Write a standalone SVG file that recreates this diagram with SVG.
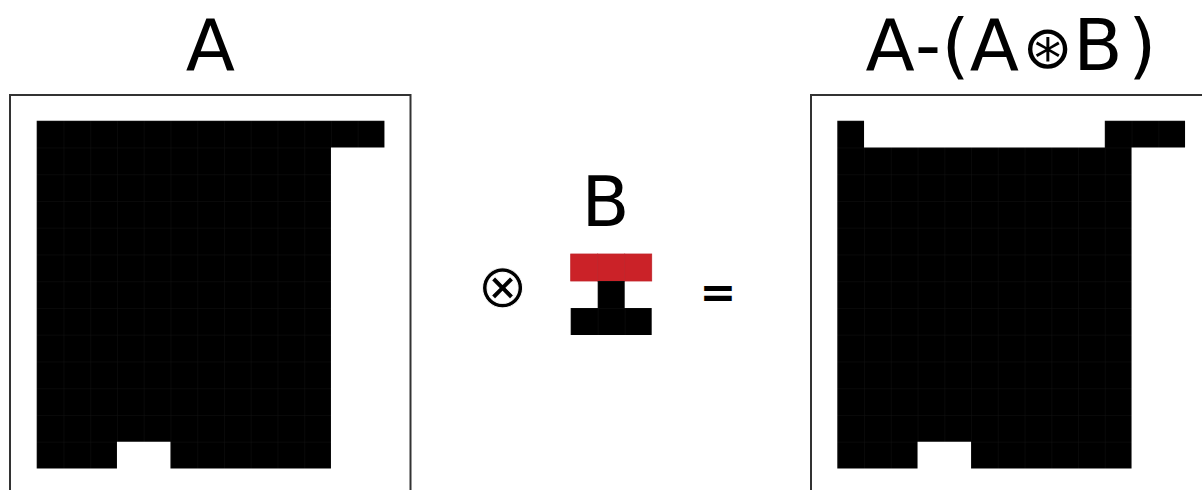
<svg xmlns="http://www.w3.org/2000/svg" width="1202" height="490" viewBox="0 0 1202 490">
  <style>
    .title { font-family: "DejaVu Sans", "Liberation Sans", sans-serif; fill: #000; }
    .thin { stroke: #fff; stroke-width: 0.9; }
    .frame { fill: none; stroke: #333; stroke-width: 2; }
    .ink { fill: url(#cell); }
    .red { fill: #cb2228; stroke: #c0242a; stroke-width: 0.03; }
  </style>
  <defs>
    <!-- one grid cell in unit space: black square with a faint seam on its edges -->
    <pattern id="cell" patternUnits="userSpaceOnUse" x="0" y="0" width="1" height="1">
      <rect x="0" y="0" width="1" height="1" fill="#000"/>
      <path d="M0,0 H1 M0,0 V1" stroke="#121212" stroke-width="0.035" fill="none"/>
    </pattern>
  </defs>

  <rect width="1202" height="490" fill="#fff"/>

  <!-- input image A -->
  <g id="panel-a">
    <text class="title" x="210.5" y="70" font-size="72" text-anchor="middle">A</text>
    <rect class="frame" x="10" y="95" width="400.5" height="420"/>
    <g transform="translate(36.7,120.7) scale(26.75)">
      <path class="ink" d="M0,0 H13 V1 H11 V13 H5 V12 H3 V13 H0 Z"/>
    </g>
  </g>

  <!-- convolution operator -->
  <g id="operator-conv">
    <text class="title thin" x="502.5" y="307" font-size="61" text-anchor="middle">⊗</text>
  </g>

  <!-- structuring element B -->
  <g id="kernel-b">
    <text class="title" x="605.5" y="226" font-size="70" text-anchor="middle">B</text>
    <g transform="translate(570.7,254) scale(27)">
      <rect class="red" x="0" y="0" width="1" height="1"/>
      <rect class="red" x="1" y="0" width="1" height="1"/>
      <rect class="red" x="2" y="0" width="1" height="1"/>
      <path class="ink" d="M1,1 H2 V2 H3 V3 H0 V2 H1 Z"/>
    </g>
  </g>

  <!-- equals sign -->
  <g id="equals">
    <text class="title" x="718" y="307" font-size="44" font-weight="bold" text-anchor="middle">=</text>
  </g>

  <!-- result A-(A⊛B) -->
  <g id="panel-result">
    <text class="title" y="70" font-size="72"><tspan x="865.4">A</tspan><tspan x="915">-</tspan><tspan x="941.5">(</tspan><tspan x="969.8">A</tspan><tspan x="1022.5" y="68" font-size="60">⊛</tspan><tspan x="1073.2" y="70">B</tspan><tspan x="1128.2">)</tspan></text>
    <rect class="frame" x="811" y="95" width="400.5" height="420"/>
    <g transform="translate(837.3,120.7) scale(26.75)">
      <path class="ink" d="M0,0 H1 V1 H10 V0 H13 V1 H11 V13 H5 V12 H3 V13 H0 Z"/>
    </g>
  </g>
</svg>
